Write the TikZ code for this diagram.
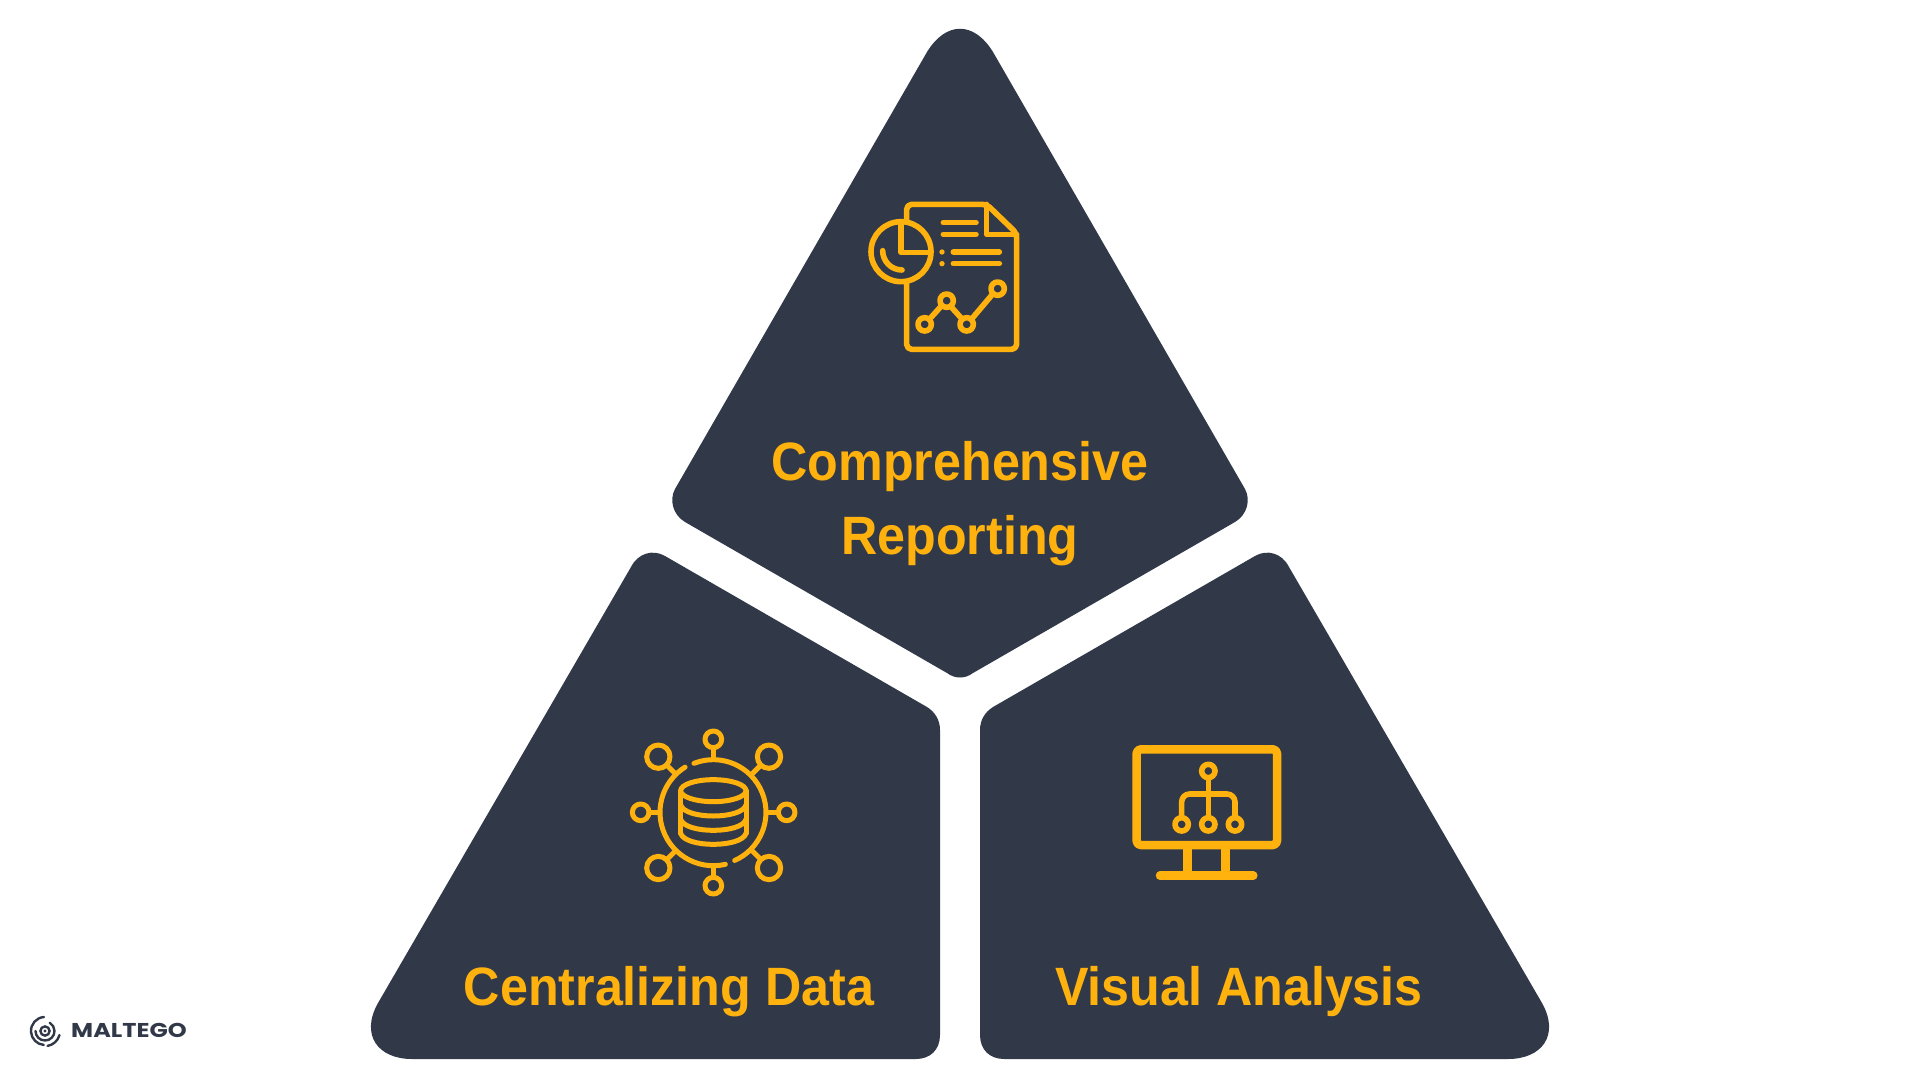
\documentclass[tikz,border=0pt]{standalone}
\usepackage{fontspec}
\setmainfont{Liberation Sans}
\newfontfamily\logofont{Poppins}
\definecolor{panelnavy}{HTML}{313949}
\definecolor{iconamber}{HTML}{FFB20D}
\tikzset{
  panel/.style={fill=panelnavy},
  iconline/.style={draw=iconamber,line width=5.6pt,line cap=round,line join=round},
  iconfine/.style={draw=iconamber,line width=5pt,line cap=round,line join=round},
  title/.style={text=iconamber,font=\fontsize{54}{74}\selectfont\bfseries,align=center,inner sep=0pt,xscale=0.93},
  logoline/.style={draw=panelnavy,line width=2.4pt,line cap=round}
}
\newcommand{\lowerpanel}{(631,567) .. controls (638,553) and (653,549) .. (665,556) -- (927,707)
  .. controls (935,712) and (940,720) .. (940,730) -- (940,1035)
  .. controls (940,1050) and (930,1059) .. (916,1059) -- (412,1059)
  .. controls (378,1059) and (360,1035) .. (378,1003) -- cycle}

\begin{document}
\begin{tikzpicture}[x=1pt,y=1pt,yscale=-1]
\useasboundingbox (0,0) rectangle (1920,1080);

% panels
\fill[panel] (927,52) .. controls (946,21) and (974,21) .. (993,52) -- (1245,489)
  .. controls (1251,500) and (1247,515) .. (1235,522) -- (973,673)
  .. controls (965,679) and (955,679) .. (947,673) -- (685,522)
  .. controls (673,515) and (669,500) .. (675,489) -- cycle;
\fill[panel] \lowerpanel;
\fill[panel,xshift=1920pt,xscale=-1] \lowerpanel;

\node[title] (reporting) at (960,504) {Comprehensive\\Reporting};
\node[title,anchor=base] (centralizing) at (669,1005) {Centralizing Data};
\node[title,anchor=base] (visual) at (1239,1005) {Visual Analysis};

% report icon
\begin{scope}[shift={(840,180)},scale=1/3]
\draw[iconline,rounded corners=5pt] (200,125) -- (200,73) -- (440,73) -- (530,160) -- (530,508) -- (200,508) -- (200,305);
\draw[iconline] (440,73) -- (440,163) -- (530,163);
\draw[iconline] (183,215) circle (90);
\draw[iconline] (183,125) -- (183,217) -- (270,217);
\draw[iconline] (128,212) arc[start angle=180,end angle=90,radius=58];
\draw[iconline] (310,128) -- (408,128);
\draw[iconline] (310,163) -- (408,163);
\draw[iconline] (340,216) -- (478,216);
\draw[iconline] (340,251) -- (478,251);
\fill[iconamber] (306,216) circle (8);
\fill[iconamber] (306,251) circle (8);
\draw[iconline] (268,418) -- (305,377);
\draw[iconline] (333,380) -- (367,418);
\draw[iconline] (394,418) -- (459,341);
\foreach \cx/\cy in {254/433,320/362,380/433,473/326}
  \draw[iconline] (\cx,\cy) circle (20);
\end{scope}

% database icon
\begin{scope}[shift={(620,720)},scale=1/3]
\draw[iconfine] (222,130) arc[start angle=-111.5,end angle=66,radius=158];
\draw[iconfine] (316,433) arc[start angle=77,end angle=238,radius=160];
\foreach \cx/\cy/\ax/\ay/\bx/\by in {280/58/280/83/280/118,500/277/475/277/447/277,280/497/280/472/280/440,62/277/88/277/115/277}{
  \draw[iconfine] (\cx,\cy) circle (25);
  \draw[iconfine] (\ax,\ay) -- (\bx,\by);
}
\foreach \cx/\cy/\ax/\ay/\bx/\by in {115/110/143/138/165/160,447/110/420/138/398/160,115/444/143/416/165/394,447/444/420/416/398/394}{
  \draw[iconfine] (\cx,\cy) circle (35);
  \draw[iconfine] (\ax,\ay) -- (\bx,\by);
}
\draw[iconfine] (280,212) ellipse (98 and 33);
\draw[iconfine] (182,212) -- (182,340);
\draw[iconfine] (378,212) -- (378,340);
\foreach \cy in {255,298,340}
  \draw[iconfine] (182,\cy) .. controls (195,\cy+44) and (365,\cy+44) .. (378,\cy);
\end{scope}

% monitor icon
\begin{scope}[shift={(1120,730)},scale=1/3]
\draw[iconline,line width=8.5pt,rounded corners=4pt] (50,58) rectangle (471,345);
\draw[iconline,line width=8.5pt,line cap=butt] (203,350) -- (203,437);
\draw[iconline,line width=8.5pt,line cap=butt] (316,350) -- (316,437);
\draw[iconline,line width=8.5pt] (120,437) -- (400,437);
\draw[iconline] (265,123) circle (20);
\draw[iconline] (265,145) -- (265,262);
\draw[iconline,rounded corners=8pt] (185,262) -- (185,192) -- (345,192) -- (345,262);
\foreach \cx in {185,265,345}
  \draw[iconline] (\cx,283) circle (20);
\end{scope}

% logo
\begin{scope}[shift={(45,1031)}]
\draw[logoline] (-1,-14) arc[start angle=-94,end angle=-265,radius=14];
\draw[logoline] (14.5,4) arc[start angle=15,end angle=80,radius=15];
\draw[logoline] (-9.5,0) arc[start angle=180,end angle=-60,radius=9.5];
\draw[logoline] (0,0) circle (4.6);
\fill[panelnavy] (0,0) circle (1.6);
\end{scope}
\node[anchor=base west,inner sep=0pt,text=panelnavy,xscale=1.2,font=\logofont\fontsize{20}{24}\selectfont\bfseries] (maltego) at (71,1037.5) {MALTEGO};
\end{tikzpicture}
\end{document}
